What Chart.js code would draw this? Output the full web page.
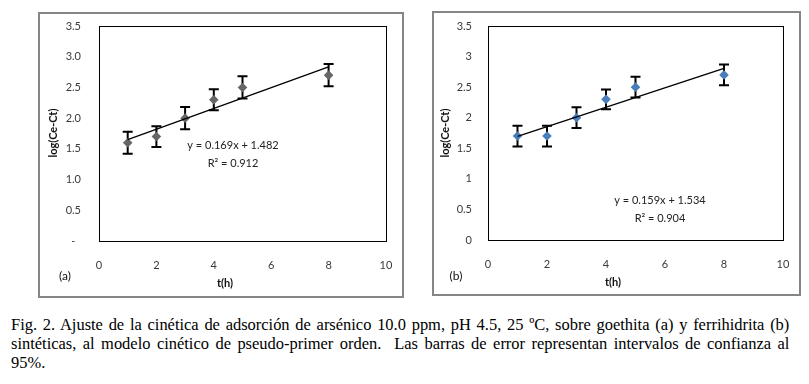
<!DOCTYPE html>
<html><head><meta charset="utf-8">
<script src="https://cdn.jsdelivr.net/npm/chart.js@4.4.1/dist/chart.umd.min.js"></script>
<style>
html,body{margin:0;padding:0;background:#fff;width:809px;height:384px;overflow:hidden;}
.box{position:absolute;border:2px solid #868686;box-sizing:border-box;}
.box canvas{position:absolute;left:0;top:0;}
#cap{position:absolute;left:11px;top:315px;width:828px;font-family:"Liberation Serif","Times New Roman",serif;font-size:17.5px;line-height:19px;transform:scaleX(0.94);transform-origin:0 0;color:#000;white-space:normal;}
#cap .j{text-align:justify;text-align-last:justify;height:19px;overflow:hidden;}
</style></head><body>
<div class="box" style="left:38px;top:12px;width:366px;height:286px;"><canvas id="cA" width="362" height="282"></canvas></div>
<div class="box" style="left:432px;top:11px;width:369px;height:285px;"><canvas id="cB" width="365" height="281"></canvas></div>
<div id="cap"><div class="j">Fig. 2. Ajuste de la cinética de adsorción de arsénico 10.0 ppm, pH 4.5, 25 ºC, sobre goethita (a) y ferrihidrita (b)</div><div class="j">sintéticas, al modelo cinético de pseudo-primer orden.&nbsp; Las barras de error representan intervalos de confianza al</div><div>95%.</div></div>
<script>
// ---- data ----
const tHours = [1, 2, 3, 4, 5, 8];
const logA = [1.6, 1.7, 2.0, 2.3, 2.5, 2.7];
const errA = [0.18, 0.17, 0.18, 0.17, 0.18, 0.18];
const logB = [1.7, 1.7, 2.0, 2.3, 2.5, 2.7];
const errB = [0.17, 0.17, 0.17, 0.16, 0.17, 0.17];
const fitA = [0.169, 1.482];   // slope, intercept
const fitB = [0.159, 1.534];
const fitRange = [1, 8];
const eqA = ['y = 0.169x + 1.482', 'R² = 0.912'];
const eqB = ['y = 0.159x + 1.534', 'R² = 0.904'];
const xTickLabels = ['0', '2', '4', '6', '8', '10'];
const yTicksA = ['-  ', '0.5', '1.0', '1.5', '2.0', '2.5', '3.0', '3.5'];
const yTicksB = ['0', '0.5', '1', '1.5', '2', '2.5', '3', '3.5'];
const yTitle = 'log(Ce-Ct)';
const xTitle = 't(h)';

const TICKFONT = {family: 'Lato', size: 11};
const TICKCOL = '#3a3a3a';

const panelPlugin = {
  id: 'panel',
  beforeDatasetsDraw(chart) {
    const o = chart.options.plugins.panel;
    const ctx = chart.ctx, a = chart.chartArea;
    const xs = chart.scales.x, ys = chart.scales.y;
    ctx.save();
    ctx.strokeStyle = '#000'; ctx.lineWidth = 1;
    ctx.strokeRect(Math.round(a.left) + 0.5, Math.round(a.top) + 0.5, Math.round(a.right - a.left), Math.round(a.bottom - a.top));
    ctx.lineWidth = 2; ctx.strokeStyle = '#000';
    o.xs.forEach((xv, i) => {
      const px = xs.getPixelForValue(xv);
      const y1 = ys.getPixelForValue(o.ys[i] + o.err[i]);
      const y2 = ys.getPixelForValue(o.ys[i] - o.err[i]);
      ctx.beginPath();
      ctx.moveTo(px, y1); ctx.lineTo(px, y2);
      ctx.moveTo(px - 5, y1); ctx.lineTo(px + 5, y1);
      ctx.moveTo(px - 5, y2); ctx.lineTo(px + 5, y2);
      ctx.stroke();
    });
    ctx.restore();
  },
  afterDraw(chart) {
    const o = chart.options.plugins.panel;
    const ctx = chart.ctx;
    const xs = chart.scales.x, ys = chart.scales.y;
    ctx.save();
    ctx.fillStyle = '#111';
    ctx.textAlign = 'center'; ctx.textBaseline = 'middle';
    ctx.font = 'bold 11px Lato';
    ctx.save();
    ctx.translate(o.yTitlePos[0], o.yTitlePos[1]);
    ctx.rotate(-Math.PI / 2);
    ctx.fillText(yTitle, 0, 0);
    ctx.restore();
    ctx.fillText(xTitle, o.xTitlePos[0], o.xTitlePos[1]);
    ctx.font = '12px Lato';
    ctx.fillText(o.letter, o.letterPos[0], o.letterPos[1]);
    ctx.font = '11px Lato';
    ctx.fillStyle = '#222';
    ctx.fillText(o.eq[0], xs.getPixelForValue(o.eqAt[0]), ys.getPixelForValue(o.eqAt[1]));
    ctx.fillText(o.eq[1], xs.getPixelForValue(o.eqAt[2]), ys.getPixelForValue(o.eqAt[3]));
    ctx.restore();
  }
};

function makeChart(id, ys, err, fit, yTicks, color, opts) {
  const pts = tHours.map((t, i) => ({x: t, y: ys[i]}));
  const line = fitRange.map(t => ({x: t, y: fit[0] * t + fit[1]}));
  return new Chart(document.getElementById(id), {
    type: 'scatter',
    data: {datasets: [
      {type: 'line', data: line, borderColor: '#000', borderWidth: 1.3, pointRadius: 0, fill: false, tension: 0},
      {data: pts, pointStyle: 'rectRot', pointRadius: 4.8, backgroundColor: color, borderColor: color, borderWidth: 0, pointHoverRadius: 4.8}
    ]},
    options: {
      responsive: false, animation: false, events: [],
      layout: {padding: {left: 0, right: opts.right, top: opts.top, bottom: 0}},
      plugins: {legend: {display: false}, tooltip: {enabled: false},
        panel: Object.assign({xs: tHours, ys: ys, err: err}, opts.panel)},
      scales: {
        x: {type: 'linear', min: 0, max: 10,
          grid: {display: false, drawTicks: false}, border: {display: false},
          ticks: {stepSize: 2, padding: 18, font: TICKFONT, color: TICKCOL,
            callback: (v, i) => xTickLabels[i]},
          afterFit: s => { s.height = opts.xh; s.paddingLeft = 0; s.paddingRight = 0; }},
        y: {type: 'linear', min: 0, max: 3.5,
          grid: {display: false, drawTicks: false}, border: {display: false},
          ticks: {stepSize: 0.5, padding: opts.ypad, font: TICKFONT, color: TICKCOL,
            callback: (v, i) => yTicks[i]},
          afterFit: s => { s.width = opts.yw; s.paddingTop = 0; s.paddingBottom = 0; }}
      }
    },
    plugins: [panelPlugin]
  });
}

makeChart('cA', logA, errA, fitA, yTicksA, '#666666', {
  top: 12, right: 16, xh: 55, yw: 59, ypad: 18,
  panel: {letter: '(a)', eq: eqA, eqAt: [4.67, 1.55, 4.67, 1.27],
    yTitlePos: [13, 119], xTitlePos: [185, 269], letterPos: [25, 262.5]}
});
makeChart('cB', logB, errB, fitB, yTicksB, '#4a7ebb', {
  top: 13, right: 16, xh: 54, yw: 54, ypad: 16,
  panel: {letter: '(b)', eq: eqB, eqAt: [5.83, 0.64, 5.83, 0.36],
    yTitlePos: [11, 120], xTitlePos: [179, 269], letterPos: [22, 263]}
});
</script>
</body></html>
